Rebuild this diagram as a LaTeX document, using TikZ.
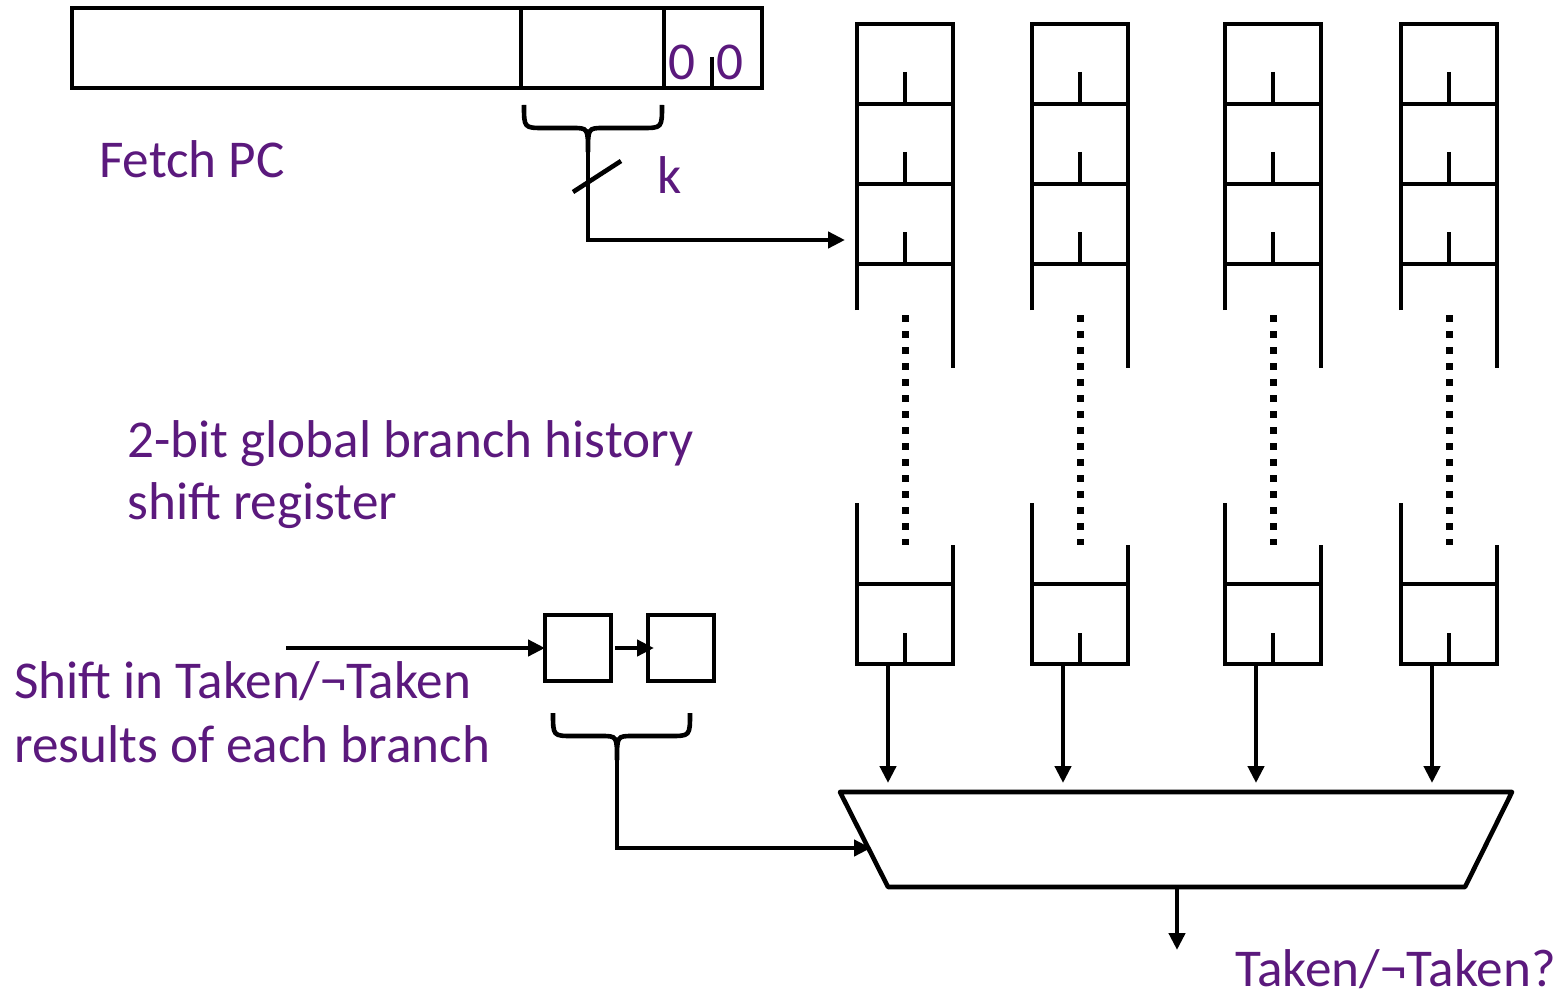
\documentclass[tikz,border=0pt]{standalone}
\usepackage{fontspec}
\setmainfont{Carlito}
\usetikzlibrary{arrows.meta}
\definecolor{txt}{RGB}{91,25,125}
\begin{document}
\begin{tikzpicture}[x=0.5pt,y=-0.5pt, line width=2.3pt,
  lbl/.style={text=txt, font=\fontsize{26.6}{32}\selectfont, inner sep=0pt},
  arr/.style={-{Triangle[length=8.5pt,width=8pt]}},
  sbox/.style={draw, inner sep=0pt, outer sep=0pt, minimum width=33pt, minimum height=33pt},
  dots/.style={line width=3.5pt, dash pattern=on 3.5pt off 4.5pt}]
\useasboundingbox (0,0) rectangle (1566,1000);
% Fetch PC register
\node[draw, inner sep=0pt, outer sep=0pt, minimum width=345pt, minimum height=40pt, anchor=north west] (pc) at (72,8) {};
\draw (521,8) -- (521,88);
\draw (664,8) -- (664,88);
\draw (712,57) -- (712,88);
\node[lbl, anchor=base] (z1) at (682,80) {0};
\node[lbl, anchor=base] (z2) at (730,80) {0};
% brace under index bits
\draw (524,105) .. controls (524,128) .. (544,128) -- (572,128) .. controls (588,128) .. (588,152)
      (662,105) .. controls (662,128) .. (642,128) -- (604,128) .. controls (588,128) .. (588,152);
\coordinate (idx) at (588,150);
\coordinate (tbl) at (845,240);
\draw[arr] (idx) |- (tbl);
\draw (573,192) -- (621,161);
\node[lbl, anchor=base west] (k) at (655,193) {k};
\node[lbl, anchor=base west] (fetch) at (97,177) {Fetch PC};
% pattern history tables
\foreach \x/\n in {857/1,1032/2,1225/3,1401/4}{
  \draw (\x,310) -- (\x,24) -- (\x+96,24) -- (\x+96,368);
  \foreach \y in {104,184,264}{
    \draw (\x,\y) -- (\x+96,\y);
    \draw (\x+48,\y-32) -- (\x+48,\y);
  }
  \draw[dots] (\x+48,315) -- (\x+48,545);
  \draw (\x,503) -- (\x,664) -- (\x+96,664) -- (\x+96,545);
  \draw (\x,584) -- (\x+96,584);
  \draw (\x+48,633) -- (\x+48,664);
  \coordinate (out\n) at (\x+31,664);
  \coordinate (in\n) at (\x+31,792);
  \draw[arr, shorten >=4.5pt] (out\n) -- (in\n);
}
% mux
\coordinate (m1) at (840,792);
\coordinate (m2) at (1512,792);
\coordinate (m3) at (1465,887);
\coordinate (m4) at (888,887);
\draw[line join=round] (m1) -- (m2) -- (m3) -- (m4) -- cycle;
\coordinate (mo) at (1177,887);
\coordinate (res) at (1177,950);
\draw[arr] (mo) -- (res);
\node[lbl, anchor=base east] (resl) at (1558,986) {Taken/¬Taken?};
% global history shift register
\node[sbox] (sr1) at (578,648) {};
\node[sbox] (sr2) at (681,648) {};
\coordinate (sin) at (286,648);
\draw[arr] (sin) -- (sr1.west);
\draw[arr, shorten <=2pt, shorten >=-3pt] (sr1.east) -- (sr2.west);
\draw (553,713) .. controls (553,736) .. (573,736) -- (601,736) .. controls (617,736) .. (617,760)
      (690,713) .. controls (690,736) .. (670,736) -- (633,736) .. controls (617,736) .. (617,760);
\coordinate (gh) at (617,758);
\coordinate (msel) at (871,848);
\draw[arr] (gh) |- (msel);
\node[lbl, anchor=base west] (h1) at (125,457) {2-bit global branch history};
\node[lbl, anchor=base west] (h2) at (125,519) {shift register};
\node[lbl, anchor=base west] (s1) at (12,698) {Shift in Taken/¬Taken};
\node[lbl, anchor=base west] (s2) at (12,762) {results of each branch};
\end{tikzpicture}
\end{document}
